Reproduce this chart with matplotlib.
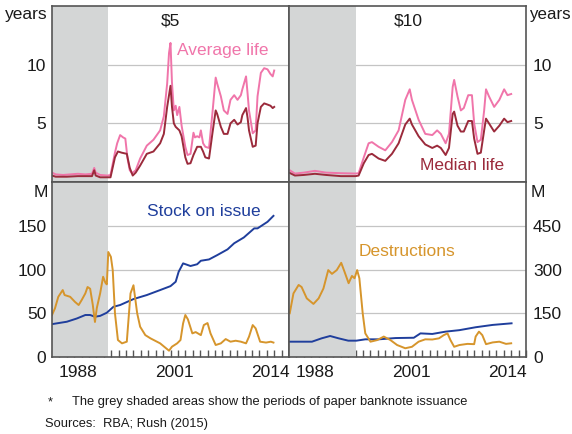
import matplotlib
matplotlib.use("Agg")
import matplotlib.pyplot as plt

plt.rcParams['font.family'] = ['Liberation Sans', 'DejaVu Sans']

# ---------------- data ----------------
# $5 average life (years)
avg5_x = [1985.0, 1985.5, 1986.5, 1987.5, 1988.5, 1989.5, 1990.4, 1990.7, 1990.9, 1991.5, 1992.5, 1992.9,
          1993.5, 1993.8, 1994.2, 1994.6, 1994.9, 1995.2, 1995.5, 1995.8, 1996.3, 1996.9, 1997.8, 1998.7,
          1999.6, 2000.1, 2000.55, 2000.8, 2001.0, 2001.2, 2001.45, 2001.7, 2001.9, 2002.2, 2002.5, 2003.0,
          2003.3, 2003.7, 2004.1, 2004.3, 2004.6, 2004.9, 2005.1, 2005.4, 2005.7, 2006.2, 2006.65, 2007.1,
          2007.3, 2007.8, 2008.2, 2008.7, 2009.1, 2009.6, 2010.05, 2010.5, 2010.7, 2011.2, 2011.4, 2011.6,
          2012.1, 2012.5, 2012.75, 2013.2, 2013.65, 2014.1, 2014.5, 2014.8, 2015.0]
avg5_y = [0.8, 0.65, 0.6, 0.65, 0.7, 0.65, 0.7, 1.2, 0.8, 0.6, 0.55, 0.6,
          2.5, 3.3, 4.0, 3.8, 3.7, 2.0, 1.0, 0.75, 1.0, 2.0, 3.1, 3.6,
          4.4, 5.6, 8.4, 11.0, 11.85, 8.45, 6.1, 6.5, 5.7, 6.4, 4.8, 3.0,
          2.3, 2.4, 4.2, 3.8, 3.9, 3.8, 4.4, 3.3, 3.0, 2.9, 5.8, 8.9,
          8.4, 7.3, 6.1, 5.8, 7.0, 7.4, 7.0, 7.4, 7.9, 9.0, 7.6, 6.1,
          4.15, 4.4, 7.3, 9.3, 9.7, 9.6, 9.2, 9.0, 9.5]

# $5 median life (years)
med5_x = [1985.0, 1985.5, 1987.0, 1988.5, 1990.4, 1990.7, 1990.9, 1991.5, 1992.9, 1993.5, 1993.9, 1994.4,
          1995.1, 1995.5, 1995.9, 1996.3, 1996.9, 1997.8, 1998.7, 1999.6, 2000.1, 2000.55, 2001.0, 2001.2,
          2001.45, 2001.7, 2002.2, 2002.5, 2003.0, 2003.3, 2003.7, 2004.1, 2004.6, 2005.1, 2005.4, 2005.7,
          2006.2, 2006.65, 2007.1, 2007.3, 2007.8, 2008.2, 2008.7, 2009.1, 2009.6, 2010.05, 2010.5, 2010.7,
          2011.2, 2011.4, 2011.6, 2012.1, 2012.5, 2012.75, 2013.2, 2013.65, 2014.1, 2014.5, 2014.8, 2015.0]
med5_y = [0.55, 0.45, 0.45, 0.5, 0.5, 1.0, 0.55, 0.4, 0.4, 2.1, 2.6, 2.5,
          2.4, 1.2, 0.55, 0.8, 1.4, 2.4, 2.6, 3.3, 4.1, 6.4, 8.2, 6.4,
          5.0, 4.7, 4.4, 3.9, 2.1, 1.55, 1.6, 2.3, 3.0, 3.0, 2.6, 2.1,
          2.0, 4.1, 6.1, 5.8, 4.7, 4.1, 4.1, 5.0, 5.3, 4.9, 5.1, 5.7,
          6.3, 5.5, 4.4, 3.0, 3.1, 5.0, 6.4, 6.7, 6.6, 6.5, 6.3, 6.4]

# $10 average life (years)
avg10_x = [1985.1, 1985.8, 1987.0, 1988.5, 1990.0, 1992.0, 1994.0, 1994.4, 1995.1, 1995.75, 1996.2, 1997.1,
           1998.0, 1998.9, 1999.8, 2000.7, 2001.3, 2001.6, 2002.5, 2003.4, 2004.35, 2005.0, 2005.5, 2006.15,
           2006.6, 2007.1, 2007.3, 2007.75, 2008.2, 2008.6, 2009.2, 2009.7, 2010.0, 2010.45, 2010.9, 2011.35,
           2011.6, 2012.0, 2012.7, 2013.4, 2014.05, 2014.5, 2015.0]
avg10_y = [1.0, 0.72, 0.8, 0.95, 0.8, 0.75, 0.72, 0.75, 2.1, 3.3, 3.4, 3.0,
           2.7, 3.4, 4.4, 7.0, 7.9, 7.0, 5.3, 4.1, 4.0, 4.4, 4.1, 3.3,
           4.1, 8.1, 8.7, 7.3, 6.1, 6.3, 7.4, 7.4, 5.0, 3.4, 3.6, 6.1,
           7.9, 7.3, 6.4, 7.0, 7.9, 7.4, 7.5]

# $10 median life (years)
med10_x = [1985.1, 1985.8, 1987.0, 1988.5, 1990.0, 1992.0, 1994.0, 1994.4, 1995.1, 1995.75, 1996.2, 1997.1,
           1998.0, 1998.9, 1999.8, 2000.7, 2001.3, 2001.6, 2002.5, 2003.4, 2004.35, 2005.0, 2005.5, 2006.15,
           2006.6, 2007.1, 2007.3, 2007.75, 2008.2, 2008.6, 2009.2, 2009.7, 2010.0, 2010.45, 2010.9, 2011.35,
           2011.6, 2012.0, 2012.7, 2013.4, 2014.05, 2014.5, 2015.0]
med10_y = [0.77, 0.55, 0.6, 0.7, 0.6, 0.5, 0.5, 0.55, 1.6, 2.3, 2.4, 2.0,
           1.8, 2.4, 3.3, 4.9, 5.4, 4.9, 3.9, 3.2, 2.9, 3.1, 2.9, 2.3,
           2.9, 5.8, 6.0, 4.8, 4.3, 4.3, 5.2, 5.2, 3.7, 2.4, 2.5, 4.4,
           5.4, 5.0, 4.3, 4.8, 5.4, 5.1, 5.2]

# $5 stock on issue (million)
stock5_x = [1985.1, 1987.0, 1988.35, 1989.5, 1990.15, 1990.8, 1991.5, 1992.4, 1993.3, 1994.2, 1996.0, 1997.8,
            1999.6, 2001.0, 2001.7, 2002.1, 2002.7, 2003.7, 2004.6, 2005.1, 2006.2, 2007.3, 2008.7, 2009.6,
            2010.9, 2012.3, 2012.75, 2014.1, 2014.9]
stock5_y = [37.7, 40.3, 44, 48, 48, 46, 47, 50.6, 57.4, 59.4, 66.2, 70.8,
            76.5, 81, 86, 97.4, 107, 104, 106, 110, 111.5, 116.4, 123, 130,
            136.6, 147, 147, 154.5, 161.3]

# $5 destructions (million)
dest5_x = [1985.0, 1985.4, 1985.85, 1986.45, 1986.7, 1987.45, 1988.1, 1988.6, 1989.0, 1989.5, 1989.8, 1990.15,
           1990.5, 1990.8, 1991.05, 1991.5, 1991.9, 1992.2, 1992.4, 1992.6, 1992.95, 1993.2, 1993.5, 1993.9,
           1994.45, 1995.1, 1995.6, 1996.0, 1996.5, 1996.9, 1997.6, 1998.3, 1999.6, 2000.8, 2001.2, 2001.9,
           2002.35, 2002.7, 2003.0, 2003.35, 2003.95, 2004.4, 2005.1, 2005.5, 2006.0, 2006.4, 2007.1, 2007.8,
           2008.45, 2009.1, 2009.8, 2010.5, 2011.2, 2011.6, 2012.1, 2012.5, 2013.1, 2013.9, 2014.55, 2014.9]
dest5_y = [48, 55.6, 68.8, 76.5, 70.8, 68.8, 63, 59.4, 65, 72.7, 80, 78,
           60, 40, 56, 72.7, 91.7, 85, 83, 120, 114.5, 99.3, 50, 19.4,
           15.6, 17.5, 72.7, 82, 50, 34.6, 25, 21.3, 15.6, 7.2, 11.8, 15.6,
           19.4, 38.4, 48, 43, 27, 28.5, 25, 36.5, 38.8, 27, 13.7, 15.6,
           20.5, 17.5, 18.6, 17.5, 15.6, 23.2, 36.5, 32.7, 17.5, 16.5, 17.5, 16.5]

# $10 stock on issue (million)
stock10_x = [1985.1, 1988.1, 1989.4, 1990.55, 1991.7, 1993.0, 1994.1, 1995.3, 1997.1, 1999.4, 2001.85, 2002.75,
             2004.35, 2006.15, 2008.0, 2010.2, 2012.5, 2015.05]
stock10_y = [52.5, 52.5, 64, 72, 64, 56, 56, 60.6, 60.6, 65, 66, 81,
             79, 87, 92, 102, 110, 115.5]

# $10 destructions (million)
dest10_x = [1985.1, 1985.6, 1986.3, 1986.7, 1987.4, 1988.3, 1989.0, 1989.65, 1990.3, 1990.8, 1991.45, 1992.05,
            1992.5, 1993.05, 1993.5, 1993.85, 1994.2, 1994.5, 1994.95, 1995.3, 1996.0, 1996.9, 1997.8, 1998.7,
            1999.6, 2000.7, 2001.6, 2002.5, 2003.4, 2004.35, 2005.25, 2005.9, 2006.4, 2006.8, 2007.3, 2008.0,
            2009.1, 2010.0, 2010.2, 2010.65, 2011.1, 2011.6, 2012.5, 2013.4, 2014.3, 2015.0]
dest10_y = [150, 218, 247, 240, 201, 182, 201, 235, 298, 285, 298, 323,
            292, 253, 278, 270, 298, 270, 150, 81, 52.5, 58, 70, 58,
            41, 30, 35, 52.5, 60.6, 60, 64, 75, 81, 58, 35, 41,
            45, 44, 70, 87, 75, 44, 50, 52.5, 45, 47]

paper_end = {'$5': 1992.6, '$10': 1994.1}
top_ticks = [5, 10]
bot_left_ticks = [0, 50, 100, 150]
bot_right_ticks = [0, 150, 300, 450]
year_labels = ['1988', '2001', '2014']

# ---------------- style ----------------
PINK = '#F075AA'
MAROON = '#9B2A3B'
BLUE = '#1F3E9C'
ORANGE = '#D6952C'
SHADE = '#D4D6D6'
GRID = '#C4C4C4'
SPINE = '#555555'
TXT = '#1a1a1a'
FS = 12.5

W, H = 572, 434
fig = plt.figure(figsize=(W / 100, H / 100), dpi=100)


def rect(x0, y0, x1, y1):
    return [x0 / W, 1 - y1 / H, (x1 - x0) / W, (y1 - y0) / H]


axTL = fig.add_axes(rect(52, 6, 289, 182))
axTR = fig.add_axes(rect(289, 6, 526, 182))
axBL = fig.add_axes(rect(52, 182, 289, 357))
axBR = fig.add_axes(rect(289, 182, 526, 357))

XMIN, XMAX = 1985.0, 2017.0

for ax, note in [(axTL, '$5'), (axTR, '$10'), (axBL, '$5'), (axBR, '$10')]:
    ax.set_xlim(XMIN, XMAX)
    ax.axvspan(XMIN, paper_end[note], color=SHADE, zorder=1, lw=0)
    for s in ax.spines.values():
        s.set_color(SPINE)
        s.set_linewidth(1.2)
        s.set_zorder(5)
    ax.set_axisbelow(True)

# top panels
for ax in (axTL, axTR):
    ax.set_ylim(0, 15)
    ax.set_yticks(top_ticks)
    ax.set_xticks([])
    for t in top_ticks:
        ax.axhline(t, color=GRID, lw=0.9, zorder=0)

axTL.plot(avg5_x, avg5_y, color=PINK, lw=1.4, zorder=3)
axTL.plot(med5_x, med5_y, color=MAROON, lw=1.4, zorder=3)
axTR.plot(avg10_x, avg10_y, color=PINK, lw=1.4, zorder=3)
axTR.plot(med10_x, med10_y, color=MAROON, lw=1.4, zorder=3)

axTL.tick_params(axis='y', left=True, right=False, length=0, pad=4, labelsize=FS, labelcolor=TXT)
axTR.tick_params(axis='y', left=False, right=True, labelleft=False, labelright=True,
                 length=0, pad=5, labelsize=FS, labelcolor=TXT)

# bottom panels
axBL.set_ylim(0, 200)
axBL.set_yticks(bot_left_ticks)
axBR.set_ylim(0, 600)
axBR.set_yticks(bot_right_ticks)
for t in bot_left_ticks[1:]:
    axBL.axhline(t, color=GRID, lw=0.9, zorder=0)
for t in bot_right_ticks[1:]:
    axBR.axhline(t, color=GRID, lw=0.9, zorder=0)

axBL.plot(stock5_x, stock5_y, color=BLUE, lw=1.4, zorder=3)
axBL.plot(dest5_x, dest5_y, color=ORANGE, lw=1.4, zorder=3)
axBR.plot(stock10_x, stock10_y, color=BLUE, lw=1.4, zorder=3)
axBR.plot(dest10_x, dest10_y, color=ORANGE, lw=1.4, zorder=3)

axBL.tick_params(axis='y', length=0, pad=4, labelsize=FS, labelcolor=TXT)
axBR.tick_params(axis='y', left=False, right=True, labelleft=False, labelright=True,
                 length=0, pad=5, labelsize=FS, labelcolor=TXT)

for ax in (axBL, axBR):
    ax.set_xticks([int(y) + 0.5 for y in year_labels])
    ax.set_xticklabels(year_labels)
    ax.set_xticks(list(range(1985, 2018)), minor=True)
    ax.tick_params(axis='x', which='major', length=0, pad=6, labelsize=FS, labelcolor=TXT)
    ax.tick_params(axis='x', which='minor', direction='in', length=5, width=1, color=SPINE)


def ftext(x, y, s, **kw):
    kw.setdefault('fontsize', FS)
    kw.setdefault('color', TXT)
    fig.text(x / W, 1 - y / H, s, **kw)


# unit labels
ftext(48, 15, 'years', ha='right', va='center')
ftext(529, 15, 'years', ha='left', va='center', fontsize=12.2)
ftext(48, 192, 'M', ha='right', va='center')
ftext(531, 192, 'M', ha='left', va='center')

# panel titles
ftext(170, 21, '$5', ha='center', va='center')
ftext(408, 21, '$10', ha='center', va='center')

# series labels
ftext(177, 50, 'Average life', ha='left', va='center', color=PINK)
ftext(420, 165, 'Median life', ha='left', va='center', color=MAROON)
ftext(147, 212, 'Stock on issue', ha='left', va='center', color=BLUE)
ftext(359, 252, 'Destructions', ha='left', va='center', color=ORANGE)

# footnotes
ftext(48, 402, '*', ha='left', va='center', fontsize=9.3)
ftext(72, 402, 'The grey shaded areas show the periods of paper banknote issuance',
      ha='left', va='center', fontsize=9.3)
ftext(45, 424, 'Sources:  RBA; Rush (2015)', ha='left', va='center', fontsize=9.3)

fig.savefig('out.png', dpi=100)
